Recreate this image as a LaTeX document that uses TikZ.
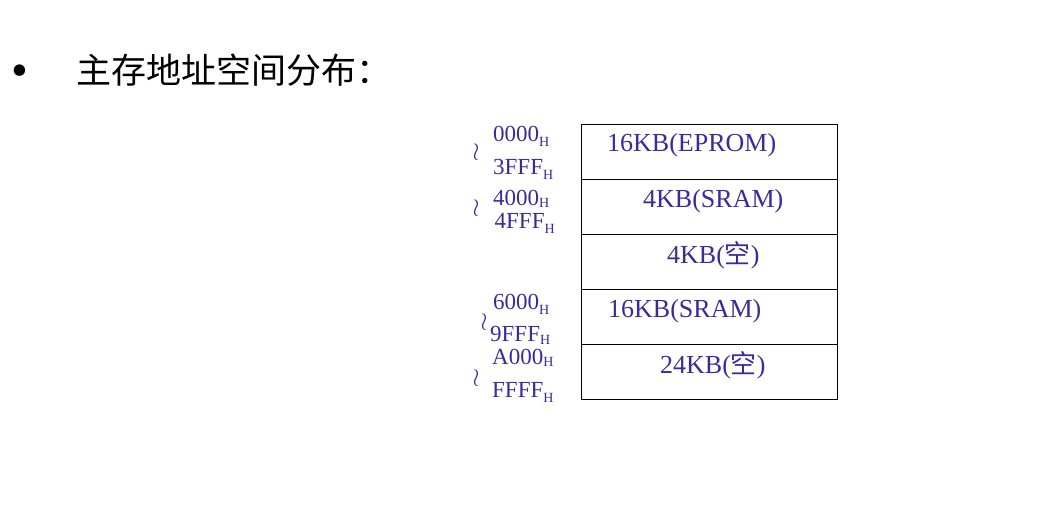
\documentclass[tikz,border=0pt]{standalone}
\usepackage{fontspec}
\setmainfont{Liberation Serif}
\newfontfamily\cjk{Noto Sans CJK SC}
\usepackage{tikz}
\usetikzlibrary{positioning}
\usepackage{xcolor}
\definecolor{addrblue}{RGB}{58,42,155}

% address with subscript H
\newcommand{\addr}[2][5pt]{#2\raisebox{-#1}{\fontsize{14}{14}\selectfont H}}

\begin{document}
\begin{tikzpicture}[x=1pt, y=-1pt,
    row/.style={draw, line width=0.9pt, minimum width=256pt, minimum height=55pt, inner sep=0pt},
    rowtext/.style={anchor=base west, inner sep=0pt, text=addrblue, font=\fontsize{26}{26}\selectfont},
    addrtext/.style={anchor=base west, inner sep=0pt, text=addrblue, font=\fontsize{23}{23}\selectfont},
    wave/.style={inner sep=0pt, text=addrblue, font=\fontsize{24}{24}\selectfont}]
    \useasboundingbox (0,0) rectangle (1044,524);

        \node[inner sep=0pt, font=\fontsize{48}{48}\selectfont] (bullet) at (20,76) {\textbullet};
        \node[anchor=west, inner sep=0pt, font=\cjk\fontsize{35}{35}\selectfont] (title) at (76,70) {主存地址空间分布：};

        % memory rows
        \node[row] (r1) at (709,151.5) {};
        \node[row] (r2) at (709,206.5) {};
        \node[row] (r3) at (709,261.5) {};
        \node[row] (r4) at (709,316.5) {};
        \node[row] (r5) at (709,371.5) {};

        \node[rowtext] (t1) at (607,152) {16KB(EPROM)};
        \node[rowtext] (t2) at (643,207.5) {4KB(SRAM)};
        \node[rowtext] (t3) at (667,263) {4KB({\cjk 空})};
        \node[rowtext] (t4) at (608,317.5) {16KB(SRAM)};
        \node[rowtext] (t5) at (660,373) {24KB({\cjk 空})};

        % address labels
        \node[addrtext] (a1) at (493,141.5) {\addr{0000}};
        \node[addrtext] (a2) at (493,175) {\addr{3FFF}};
        \node[addrtext] (a3) at (493,205.5) {\addr[2pt]{4000}};
        \node[addrtext] (a4) at (494.5,228) {\addr{4FFF}};
        \node[addrtext] (a5) at (493,309) {\addr{6000}};
        \node[addrtext] (a6) at (490,341) {\addr[3pt]{9FFF}};
        \node[addrtext] (a7) at (492,364) {\addr[2pt]{A000}};
        \node[addrtext] (a8) at (492,397.5) {\addr{FFFF}};

        \node[wave] (w1) at (476,152) {$\wr$};
        \node[wave] (w2) at (476,208) {$\wr$};
        \node[wave] (w3) at (484,322) {$\wr$};
        \node[wave] (w4) at (476,378) {$\wr$};

    \end{tikzpicture}
\end{document}
